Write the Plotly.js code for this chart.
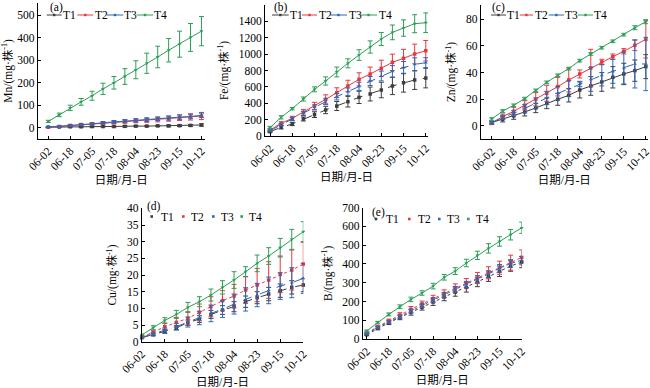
<!DOCTYPE html>
<html><head><meta charset="utf-8">
<script src="https://cdn.plot.ly/plotly-3.0.1.min.js"></script>
<style>body{margin:0;background:#fff}#c{width:650px;height:388px}</style>
</head><body><div id="c"></div>
<script>
// sampling index (15 sampling dates) and tick labels (every second date)
const sampleIdx = [0,1,2,3,4,5,6,7,8,9,10,11,12,13,14];
const tickIdx = [0,2,4,6,8,10,12,14];
const tickLabels = ['06-02','06-18','07-05','07-18','08-04','08-23','09-15','10-12'];
const seriesNames = ['T1','T2','T3','T4'];

// (a) Mn
const mnT1 = [2,3,4,4,5,5,5,6,7,7,8,8,9,10,12];
const mnT1e = [1,1,1.5,2,2,2,2,3,3,3,3,4,4,4,5];
const mnT2 = [2,5,10,14,17,20,23,27,30,33,36,40,44,48,52];
const mnT2e = [2,2,3,3,4,5,6,7,8,9,10,11,12,14,16];
const mnT3 = [3,6,10,14,17,22,26,30,33,36,40,43,47,50,55];
const mnT3e = [2,2,3,3,4,5,6,6,7,8,8,9,10,10,10];
const mnT4 = [28,57,88,115,142,173,200,228,258,287,315,345,372,402,430];
const mnT4e = [5,8,12,15,20,25,28,35,40,45,48,52,58,62,65];

// (b) Fe
const feT1 = [53,106,147,208,261,318,366,419,472,513,562,611,651,684,708];
const feT1e = [10,20,20,25,35,45,55,65,75,85,95,105,115,115,120];
const feT2 = [73,155,216,290,366,448,529,611,692,757,826,900,949,1002,1042];
const feT2e = [15,20,25,35,45,55,60,70,80,85,100,100,110,120,125];
const feT3 = [65,138,208,275,350,419,480,541,607,672,733,790,835,875,896];
const feT3e = [10,15,20,25,30,35,40,45,50,55,60,70,75,80,60];
const feT4 = [102,228,334,452,570,672,782,888,989,1087,1185,1266,1319,1372,1384];
const feT4e = [15,20,15,25,30,50,60,55,65,75,80,90,100,110,120];

// (c) Zn
const znT1 = [2.5,5,7.5,10.5,13.5,17,20,23,27,30,33,36.5,39,41.5,44.5];
const znT1e = [1,2,2.5,3,3.5,4,4.5,5,6,7,7,8,8,8,9];
const znT2 = [2,7,11,15.5,20,24.5,29.5,34.5,39,43.5,48,52,56,60.5,65];
const znT2e = [1,2,3,3.5,5,6,7,9,3,14,2,2,2,4,14];
const znT3 = [2.5,6.5,9.5,13,17,21,24.5,28,31.5,35,38,41,43.5,46.5,46.5];
const znT3e = [1,1.5,2,3,4,5,5,6,2,9,8,9,12,18,20];
const znT4 = [5.2,11.2,15.5,20.5,26.7,32.7,38,43,49,54,58.7,63.5,68.5,73.7,78.2];
const znT4e = [1,1,1,1,1,1,1,1,1,1,1,1,1,1.5,1.5];

// (d) Cu
const cuT1 = [1.2,2.1,3.1,4.2,5.7,6.8,8.2,9.5,10.5,12,13.2,14.3,15.3,16.3,17];
const cuT1e = [0.2,0.3,0.5,0.6,0.8,1,1.2,1.3,1.5,1.7,1.8,2,2,2,2];
const cuT2 = [1.5,2.8,4.5,5.8,7,8.8,10.5,12.3,13.7,15.5,17,18.5,20.2,21.5,23.3];
const cuT2e = [0.3,0.5,1,1.5,2,2.5,3,3,3.5,4,5,5.5,5.5,6,6.5];
const cuT3 = [1.3,2.3,3.3,4.5,5.9,7.1,8.5,9.8,11.3,12.7,14,15.4,16.7,17.7,19];
const cuT3e = [0.3,0.5,0.8,1,1.5,2,2.5,2.5,3,3.5,3.5,4,4,4.5,4.5];
const cuT4 = [2,4.2,6.4,8.2,10.3,12,14,16.3,18.5,21,23.5,25.7,28.2,30.7,33];
const cuT4e = [0.3,0.6,0.8,1.2,1.5,1.5,1.8,2,2.5,1.5,2.5,2.5,2.8,3,3];

// (e) B
const bT1 = [23,57,87,115,142,169,197,224,250,275,304,332,361,389,410];
const bT1e = [5,8,10,12,15,15,18,20,22,25,25,25,28,28,30];
const bT2 = [30,66,96,128,158,187,215,242,272,297,325,353,380,407,435];
const bT2e = [5,8,10,12,15,15,18,20,22,25,30,32,35,40,40];
const bT3 = [27,62,91,119,149,178,208,234,265,291,320,346,377,403,420];
const bT3e = [4,5,6,8,10,10,12,14,15,16,18,18,20,20,20];
const bT4 = [43,89,131,172,211,245,282,329,362,405,446,483,520,556,593];
const bT4e = [5,5,8,10,12,12,15,15,18,20,22,25,25,28,30];

const colors = ['#3d3d3d','#e8373c','#2a68b8','#2b9e57'];
const symbols = ['square','square','triangle-up','triangle-down'];
const FONT = "'Liberation Serif', 'Noto Sans CJK SC', serif";

const panels = [
  {id:'', vals:[mnT1,mnT2,mnT3,mnT4], errs:[mnT1e,mnT2e,mnT3e,mnT4e], dash:['solid','solid','solid','solid'],
   xdom:[0.058,0.315], ydom:[0.642,0.992], xr:[-0.97,14.3], yr:[-50,555], dt:100, ymax:500,
   ytitle:'Mn/(mg·株<sup>-1</sup>)'},
  {id:'2', vals:[feT1,feT2,feT3,feT4], errs:[feT1e,feT2e,feT3e,feT4e], dash:['dash','solid','dash','solid'],
   xdom:[0.4077,0.6585], ydom:[0.6495,0.987], xr:[-0.45,14.2], yr:[0,1600], dt:200, ymax:1600,
   ytitle:'Fe/(mg·株<sup>-1</sup>)'},
  {id:'3', vals:[znT1,znT2,znT3,znT4], errs:[znT1e,znT2e,znT3e,znT4e], dash:['solid','solid','dash','solid'],
   xdom:[0.7395,0.997], ydom:[0.641,0.987], xr:[-1,14.2], yr:[-10,90.7], dt:20, ymax:80,
   ytitle:'Zn/(mg·株<sup>-1</sup>)'},
  {id:'4', vals:[cuT1,cuT2,cuT3,cuT4], errs:[cuT1e,cuT2e,cuT3e,cuT4e], dash:['dash','dot','dash','solid'],
   xdom:[0.218,0.4666], ydom:[0.1193,0.463], xr:[0,14], yr:[0,40], dt:5, ymax:40,
   ytitle:'Cu/(mg·株<sup>-1</sup>)'},
  {id:'5', vals:[bT1,bT2,bT3,bT4], errs:[bT1e,bT2e,bT3e,bT4e], dash:['dot','dot','dot','solid'],
   xdom:[0.558,0.8026], ydom:[0.1263,0.4647], xr:[-0.36,14], yr:[0,700], dt:100, ymax:700,
   ytitle:'B/(mg·株<sup>-1</sup>)'}
];

const traces = [];
const layout = {
  width:650, height:388, margin:{l:0,r:0,t:0,b:0}, showlegend:false,
  paper_bgcolor:'#fff', plot_bgcolor:'#fff',
  font:{family:FONT, size:11, color:'#000'},
  annotations:[], shapes:[]
};

panels.forEach(p => {
  const xa = 'x'+p.id, ya = 'y'+p.id;
  p.vals.forEach((v,i) => {
    traces.push({
      type:'scatter', mode:'lines+markers', x:sampleIdx, y:v, name:seriesNames[i],
      xaxis:xa, yaxis:ya, cliponaxis:false,
      line:{color:colors[i], width:1, dash:p.dash[i]},
      marker:{color:colors[i], size:3.5, symbol:symbols[i]},
      error_y:{type:'data', array:p.errs[i], visible:true, color:colors[i], thickness:1, width:2.5}
    });
  });
  const yt = [];
  for (let t=0; t<=p.ymax; t+=p.dt) yt.push(t);
  layout['xaxis'+p.id] = {
    domain:p.xdom, range:p.xr, anchor:ya, tickvals:tickIdx, ticktext:tickLabels, tickangle:-45,
    showline:true, linecolor:'#000', linewidth:1, ticks:'inside', ticklen:3, tickcolor:'#000',
    showgrid:false, zeroline:false, tickfont:{family:FONT, size:11.5}, ticklabeloverflow:'allow',
    title:{text:'日期/月-日', font:{family:FONT, size:11.5}, standoff:4}
  };
  layout['yaxis'+p.id] = {
    domain:p.ydom, range:p.yr, anchor:xa, tickvals:yt,
    showline:true, linecolor:'#000', linewidth:1, ticks:'inside', ticklen:3, tickcolor:'#000',
    showgrid:false, zeroline:false, tickfont:{family:FONT, size:11.5},
    title:{text:p.ytitle, font:{family:FONT, size:11.5}, standoff:7}
  };
});

// custom legends & panel labels (pixel positions converted to paper fractions)
const PX = v => v/650, PY = v => 1 - v/388;
function label(txt, x, y){
  layout.annotations.push({text:txt, xref:'paper', yref:'paper', x:PX(x), y:PY(y),
    xanchor:'left', yanchor:'middle', showarrow:false, borderpad:0, font:{family:FONT, size:11.5, color:'#000'}});
}
function lineItem(i, x0, x1, tx, y){
  layout.shapes.push({type:'line', xref:'paper', yref:'paper', x0:PX(x0), x1:PX(x1), y0:PY(y), y1:PY(y),
    line:{color:colors[i], width:1}});
  const xm = (x0+x1)/2;
  layout.shapes.push({type:'rect', xref:'paper', yref:'paper', x0:PX(xm-1.2), x1:PX(xm+1.2), y0:PY(y-1.2), y1:PY(y+1.2),
    fillcolor:colors[i], line:{width:0}});
  label(seriesNames[i], tx, y);
}
function dotItem(i, xm, tx, y){
  layout.shapes.push({type:'rect', xref:'paper', yref:'paper', x0:PX(xm-1.3), x1:PX(xm+1.3), y0:PY(y-1.3), y1:PY(y+1.3),
    fillcolor:colors[i], line:{width:0}});
  label(seriesNames[i], tx, y);
}
label('(a)', 49, 7);
[[46.7,61.7,61.7],[77.3,93.3,94],[106.7,123.3,123.3],[136.7,153.3,153.3]].forEach((d,i)=>lineItem(i,d[0],d[1],d[2],15));
label('(b)', 273, 7);
[[272,288.7,288.7],[302,317,318],[330,347,348],[360,377,377.7]].forEach((d,i)=>lineItem(i,d[0],d[1],d[2],15));
label('(c)', 491, 7);
[[491,506,506],[519.7,533,534],[548.7,564,564],[578,593,593]].forEach((d,i)=>lineItem(i,d[0],d[1],d[2],15));
label('(d)', 146, 206);
[[151.7,160],[183.3,190],[213.3,220],[241.7,248.3]].forEach((d,i)=>dotItem(i,d[0],d[1],216.5));
label('(e)', 371, 212.5);
[[376,385],[409.3,416.7],[439.3,446],[468.3,475]].forEach((d,i)=>dotItem(i,d[0],d[1],219));

Plotly.newPlot('c', traces, layout, {staticPlot:true, displayModeBar:false});
</script>
</body></html>
